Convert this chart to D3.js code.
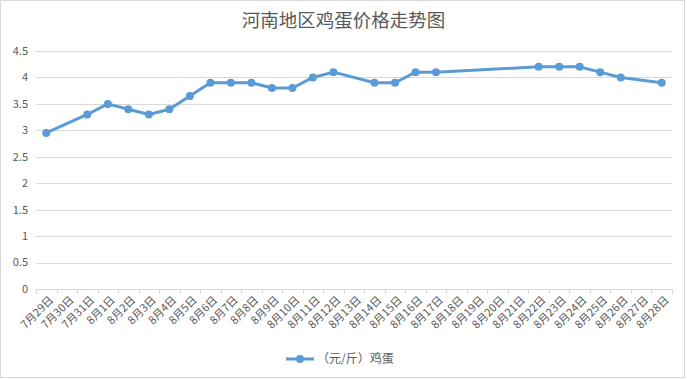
<!DOCTYPE html>
<html><head><meta charset="utf-8">
<script src="https://cdn.jsdelivr.net/npm/d3@7"></script>
<style>body{margin:0;background:#fff}svg{display:block;font-family:"Noto Sans CJK SC","Noto Sans",sans-serif}</style>
</head><body><div id="c"></div>
<script>
const title = "河南地区鸡蛋价格走势图";
const seriesName = "（元/斤）鸡蛋";
const categories = ["7月29日","7月30日","7月31日","8月1日","8月2日","8月3日","8月4日","8月5日","8月6日","8月7日","8月8日","8月9日","8月10日","8月11日","8月12日","8月13日","8月14日","8月15日","8月16日","8月17日","8月18日","8月19日","8月20日","8月21日","8月22日","8月23日","8月24日","8月25日","8月26日","8月27日","8月28日"];
const values = [2.95,null,3.3,3.5,3.4,3.3,3.4,3.65,3.9,3.9,3.9,3.8,3.8,4.0,4.1,null,3.9,3.9,4.1,4.1,null,null,null,null,4.2,4.2,4.2,4.1,4.0,null,3.9];
const yTicks = [0,0.5,1,1.5,2,2.5,3,3.5,4,4.5];

const W=687,H=380;
const m={l:36,r:15,t:51,b:91};
const svg=d3.select("#c").append("svg").attr("width",W).attr("height",H);
svg.append("rect").attr("x",0.5).attr("y",0.5).attr("width",W-3).attr("height",H-3).attr("fill","#fff").attr("stroke","#d9d9d9");
const x=d3.scaleBand().domain(categories).range([m.l,W-m.r]);
const y=d3.scaleLinear().domain([0,4.5]).range([H-m.b,m.t]);

svg.append("text").attr("x",W/2).attr("y",27).attr("text-anchor","middle").attr("font-size",18.5).attr("fill","#595959").text(title);

const g=svg.append("g");
g.selectAll("line.grid").data(yTicks).join("line").attr("x1",m.l).attr("x2",W-m.r)
 .attr("y1",d=>Math.round(y(d))+0.5).attr("y2",d=>Math.round(y(d))+0.5).attr("stroke","#d9d9d9");
g.selectAll("text.yl").data(yTicks).join("text").attr("x",m.l-8).attr("y",d=>y(d)).attr("dy","0.35em")
 .attr("text-anchor","end").attr("font-size",11).attr("fill","#595959").text(d=>d);

// x ticks
const ticks=categories.map(c=>x(c)).concat([W-m.r]);
g.selectAll("line.xt").data(ticks).join("line").attr("x1",d=>Math.round(d)+0.5).attr("x2",d=>Math.round(d)+0.5)
 .attr("y1",y(0)).attr("y2",y(0)+5).attr("stroke","#d9d9d9");
g.selectAll("text.xl").data(categories).join("text")
 .attr("transform",d=>`translate(${x(d)+x.bandwidth()/2+5},${y(0)+9}) rotate(-45)`)
 .attr("text-anchor","end").attr("dy","0.35em").attr("font-size",11).attr("fill","#595959").text(d=>d);

const pts=categories.map((c,i)=>({c,v:values[i]})).filter(d=>d.v!=null);
const line=d3.line().x(d=>x(d.c)+x.bandwidth()/2).y(d=>y(d.v));
g.append("path").datum(pts).attr("d",line).attr("fill","none").attr("stroke","#5b9bd5").attr("stroke-width",3).attr("stroke-linejoin","round");
g.selectAll("circle").data(pts).join("circle").attr("cx",d=>x(d.c)+x.bandwidth()/2).attr("cy",d=>y(d.v)).attr("r",4).attr("fill","#5b9bd5");

// legend
const ly=359;
svg.append("line").attr("x1",286).attr("x2",314).attr("y1",ly).attr("y2",ly).attr("stroke","#5b9bd5").attr("stroke-width",3);
svg.append("circle").attr("cx",300).attr("cy",ly).attr("r",4).attr("fill","#5b9bd5");
svg.append("text").attr("x",317).attr("y",ly).attr("dy","0.35em").attr("font-size",12).attr("fill","#595959").text(seriesName);
</script></body></html>
